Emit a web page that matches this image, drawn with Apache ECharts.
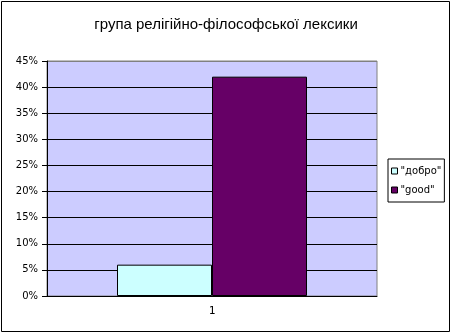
<!DOCTYPE html>
<html>
<head>
<meta charset="utf-8">
<script src="https://cdn.jsdelivr.net/npm/echarts@6/dist/echarts.min.js"></script>
<style>
html,body{margin:0;padding:0;background:#fff;}
#c{width:452px;height:336px;}
</style>
</head>
<body>
<div id="c"></div>
<script>
var titleText = 'група релігійно-філософської лексики';
var categories = ['1'];
var seriesNames = ['"добро"', '"good"'];
var valuesDobro = [6];
var valuesGood = [42];
var seriesColors = ['#CCFFFF', '#660066'];

var chart = echarts.init(document.getElementById('c'), null, {renderer: 'canvas'});
var gridColors = ['#000','#000','#000','#000','#000','#000','#000','#000','#000','#808080'];
chart.setOption({
  animation: false,
  title: {
    text: titleText,
    left: 'center',
    top: 12,
    textStyle: {fontFamily: 'Liberation Sans, Arial, sans-serif', fontSize: 15, fontWeight: 'normal', color: '#000'}
  },
  legend: {
    orient: 'vertical',
    left: 388,
    top: 159,
    data: seriesNames,
    icon: 'rect',
    itemWidth: 6,
    itemHeight: 6,
    itemGap: 9,
    padding: [7, 3, 7, 3],
    borderColor: '#000',
    borderWidth: 1,
    textStyle: {fontFamily: 'DejaVu Sans, Verdana, sans-serif', fontSize: 10, color: '#000', padding: [0,0,0,-2]},
    itemStyle: {borderColor: '#000', borderWidth: 1}
  },
  grid: {
    left: 47, right: 75, top: 61, bottom: 40,
    show: true,
    backgroundColor: '#CCCCFF',
    borderColor: '#808080',
    borderWidth: 1
  },
  xAxis: {
    type: 'category',
    data: categories,
    axisLine: {lineStyle: {color: '#000', width: 1}},
    axisTick: {show: false},
    axisLabel: {fontFamily: 'DejaVu Sans Mono, monospace', fontSize: 11, color: '#000', margin: 10}
  },
  yAxis: {
    type: 'value',
    min: 0,
    max: 45,
    interval: 5,
    axisLine: {show: true, lineStyle: {color: '#000', width: 1}},
    axisTick: {show: true, length: 5, lineStyle: {color: '#000'}},
    axisLabel: {formatter: '{value}%', fontFamily: 'DejaVu Sans, Verdana, sans-serif', fontSize: 10, color: '#000', margin: 9},
    splitLine: {show: true, lineStyle: {color: gridColors, width: 1}}
  },
  series: [
    {name: seriesNames[0], type: 'bar', data: valuesDobro, barWidth: 95, barGap: '0%',
     itemStyle: {color: seriesColors[0], borderColor: '#000', borderWidth: 1}},
    {name: seriesNames[1], type: 'bar', data: valuesGood, barWidth: 95, barGap: '0%',
     itemStyle: {color: seriesColors[1], borderColor: '#000', borderWidth: 1}}
  ],
  graphic: [{
    type: 'rect',
    shape: {x: 1.5, y: 1.5, width: 448, height: 330},
    style: {fill: 'none', stroke: '#000', lineWidth: 1},
    silent: true
  }]
});
</script>
</body>
</html>
